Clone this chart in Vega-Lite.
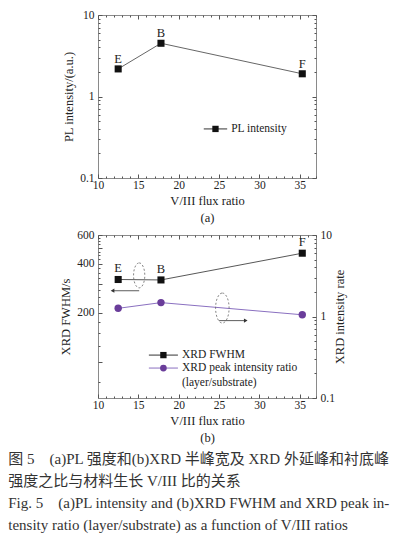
{
  "$schema": "https://vega.github.io/schema/vega-lite/v6.json",
  "background": "white",
  "padding": {"left": 8, "top": 8, "right": 4, "bottom": 4},
  "config": {
    "font": "Liberation Serif",
    "view": {"stroke": "#8a8a8a", "strokeWidth": 1},
    "axis": {
      "labelFont": "Liberation Serif", "labelFontSize": 11.5, "labelColor": "#222",
      "titleFont": "Liberation Serif", "titleFontSize": 12.5, "titleFontWeight": "normal", "titleColor": "#222",
      "titleLineHeight": 17, "domain": false, "offset": -4,
      "tickColor": "#555", "tickWidth": 1, "tickSize": 4, "tickDashOffset": 2, "grid": false,
      "labelOverlap": false, "labelFlush": false, "zindex": 1
    },
    "axisX": {"labelPadding": 1, "titlePadding": 4},
    "axisY": {"labelPadding": 4}
  },
  "title": {
    "text": [
      "图 5\u2003(a)PL 强度和(b)XRD 半峰宽及 XRD 外延峰和衬底峰",
      "强度之比与材料生长 V/III 比的关系",
      "Fig. 5\u2003(a)PL intensity and (b)XRD FWHM and XRD peak in-",
      "tensity ratio (layer/substrate) as a function of V/III ratios"
    ],
    "orient": "bottom", "anchor": "start", "dx": -51, "offset": 7,
    "font": "Liberation Serif, Noto Sans CJK SC", "fontSize": 15, "fontWeight": "normal",
    "lineHeight": 22.3, "color": "#333"
  },
  "spacing": 3,
  "vconcat": [
    {
      "width": 218, "height": 163,
      "data": {"values": [
        {"ratio": 12.5, "pl": 2.18, "label": "E"},
        {"ratio": 17.8, "pl": 4.5, "label": "B"},
        {"ratio": 35.3, "pl": 1.9, "label": "F"}
      ]},
      "encoding": {
        "x": {"field": "ratio", "type": "quantitative", "scale": {"domain": [10, 37], "nice": false},
              "axis": {"values": [10,11,12,13,14,15,16,17,18,19,20,21,22,23,24,25,26,27,28,29,30,31,32,33,34,35,36,37],
                       "labelExpr": "datum.value % 5 === 0 ? datum.label : ''",
                       "tickDash": {"condition": {"test": "datum.value % 5 === 0", "value": [10, 0]}, "value": [2, 2]},
                       "title": ["V/III flux ratio", "(a)"]}},
        "y": {"field": "pl", "type": "quantitative", "scale": {"type": "log", "domain": [0.1, 10], "nice": false},
              "axis": {"values": [0.1,0.2,0.3,0.4,0.5,0.6,0.7,0.8,0.9,1,2,3,4,5,6,7,8,9,10], "format": "~g",
                       "labelExpr": "(datum.value == 0.1 || datum.value == 1 || datum.value == 10) ? datum.label : ''",
                       "tickDash": {"condition": {"test": "datum.value == 0.1 || datum.value == 1 || datum.value == 10", "value": [10, 0]}, "value": [2, 2]},
                       "title": "PL intensity/(a.u.)"}}
      },
      "resolve": {"axis": {"x": "independent", "y": "independent"}},
      "layer": [
        {"mark": {"type": "line", "color": "#555", "strokeWidth": 0.9},
         "encoding": {
           "x": {"field": "ratio", "type": "quantitative",
                 "axis": {"orient": "top", "values": [10,11,12,13,14,15,16,17,18,19,20,21,22,23,24,25,26,27,28,29,30,31,32,33,34,35,36,37],
                          "labels": false, "title": null,
                          "tickDash": {"condition": {"test": "datum.value % 5 === 0", "value": [10, 0]}, "value": [2, 2]}}},
           "y": {"field": "pl", "type": "quantitative",
                 "axis": {"orient": "right", "values": [0.1,0.2,0.3,0.4,0.5,0.6,0.7,0.8,0.9,1,2,3,4,5,6,7,8,9,10],
                          "labels": false, "title": null,
                          "tickDash": {"condition": {"test": "datum.value == 0.1 || datum.value == 1 || datum.value == 10", "value": [10, 0]}, "value": [2, 2]}}}
         }},
        {"layer": [
          {"mark": {"type": "point", "shape": "square", "filled": true, "size": 50, "color": "#111", "opacity": 1}},
          {"mark": {"type": "text", "dy": -10, "fontSize": 12.5, "color": "#222", "font": "Liberation Serif"},
           "encoding": {"text": {"field": "label"}}},
          {"data": {"values": [{"ratio": 24.55, "x0": 23.1, "x1": 26.0, "tx": 26.5, "pl": 0.4, "text": "PL intensity"}]},
           "layer": [
             {"mark": {"type": "rule", "color": "#333", "strokeWidth": 1},
              "encoding": {"x": {"field": "x0", "type": "quantitative"}, "x2": {"field": "x1"}}},
             {"mark": {"type": "point", "shape": "square", "filled": true, "size": 40, "color": "#111", "opacity": 1}},
             {"mark": {"type": "text", "align": "left", "baseline": "middle", "fontSize": 11.5, "color": "#222", "font": "Liberation Serif"},
              "encoding": {"x": {"field": "tx", "type": "quantitative"}, "text": {"field": "text"}}}
           ]}
        ]}
      ]
    },
    {
      "width": 218, "height": 163,
      "data": {"values": [
        {"ratio": 12.5, "fwhm": 320, "ir": 1.26, "label": "E"},
        {"ratio": 17.8, "fwhm": 318, "ir": 1.48, "label": "B"},
        {"ratio": 35.3, "fwhm": 464, "ir": 1.05, "label": "F"}
      ]},
      "resolve": {"scale": {"y": "independent"}, "axis": {"x": "independent", "y": "independent"}},
      "layer": [
        {
          "encoding": {
            "x": {"field": "ratio", "type": "quantitative", "scale": {"domain": [10, 37], "nice": false},
                  "axis": {"values": [10,11,12,13,14,15,16,17,18,19,20,21,22,23,24,25,26,27,28,29,30,31,32,33,34,35,36,37],
                           "labelExpr": "datum.value % 5 === 0 ? datum.label : ''",
                           "tickDash": {"condition": {"test": "datum.value % 5 === 0", "value": [10, 0]}, "value": [2, 2]},
                           "title": ["V/III flux ratio", "(b)"]}},
            "y": {"field": "fwhm", "type": "quantitative", "scale": {"type": "log", "domain": [60, 600], "nice": false},
                  "axis": {"values": [75,100,125,150,175,200,225,250,275,300,325,350,375,400,425,450,475,500,525,550,575,600],
                           "format": "~g",
                           "labelExpr": "(datum.value == 200 || datum.value == 400 || datum.value == 600) ? datum.label : ''",
                           "tickDash": {"condition": {"test": "datum.value % 100 === 0", "value": [10, 0]}, "value": [2, 2]},
                           "title": "XRD FWHM/s"}}
          },
          "layer": [
            {"mark": {"type": "line", "color": "#444", "strokeWidth": 0.9}, "encoding": {}},
            {"mark": {"type": "point", "shape": "square", "filled": true, "size": 50, "color": "#111", "opacity": 1}},
            {"mark": {"type": "text", "dy": -11, "fontSize": 12.5, "color": "#222", "font": "Liberation Serif"},
             "encoding": {"text": {"field": "label"}}},
            {"data": {"values": [{"ratio": 15.1, "fwhm": 339}]},
             "mark": {"type": "point", "shape": "M0,-1A0.45,1 0 1,1 0,1A0.45,1 0 1,1 0,-1Z", "size": 625,
                      "filled": false, "stroke": "#666", "strokeWidth": 0.8, "strokeDash": [2, 2], "opacity": 1}},
            {"data": {"values": [{"ratio": 15.1, "ratio_end": 11.8, "fwhm": 273}]},
             "layer": [
               {"mark": {"type": "rule", "color": "#333", "strokeWidth": 0.8}, "encoding": {"x2": {"field": "ratio_end"}}},
               {"mark": {"type": "point", "shape": "triangle-left", "filled": true, "size": 18, "color": "#333", "opacity": 1},
                "encoding": {"x": {"field": "ratio_end", "type": "quantitative"}}}
             ]},
            {"data": {"values": [{"ratio": 18.1, "x0": 16.3, "x1": 19.9, "tx": 20.4, "fwhm": 110, "text": "XRD FWHM"}]},
             "layer": [
               {"mark": {"type": "rule", "color": "#333", "strokeWidth": 1},
                "encoding": {"x": {"field": "x0", "type": "quantitative"}, "x2": {"field": "x1"}}},
               {"mark": {"type": "point", "shape": "square", "filled": true, "size": 40, "color": "#111", "opacity": 1}},
               {"mark": {"type": "text", "align": "left", "baseline": "middle", "fontSize": 11.5, "color": "#222", "font": "Liberation Serif"},
                "encoding": {"x": {"field": "tx", "type": "quantitative"}, "text": {"field": "text"}}}
             ]}
          ]
        },
        {
          "encoding": {
            "x": {"field": "ratio", "type": "quantitative",
                  "axis": {"orient": "top", "values": [10,11,12,13,14,15,16,17,18,19,20,21,22,23,24,25,26,27,28,29,30,31,32,33,34,35,36,37],
                           "labels": false, "title": null,
                           "tickDash": {"condition": {"test": "datum.value % 5 === 0", "value": [10, 0]}, "value": [2, 2]}}},
            "y": {"field": "ir", "type": "quantitative", "scale": {"type": "log", "domain": [0.1, 10], "nice": false},
                  "axis": {"orient": "right", "values": [0.1,0.2,0.3,0.4,0.5,0.6,0.7,0.8,0.9,1,2,3,4,5,6,7,8,9,10], "format": "~g",
                           "labelExpr": "(datum.value == 0.1 || datum.value == 1 || datum.value == 10) ? datum.label : ''",
                           "tickDash": {"condition": {"test": "datum.value == 0.1 || datum.value == 1 || datum.value == 10", "value": [10, 0]}, "value": [2, 2]},
                           "title": "XRD intensity rate", "titleAngle": 270, "titlePadding": 12}}
          },
          "layer": [
            {"mark": {"type": "line", "color": "#8a70c0", "strokeWidth": 1}, "encoding": {}},
            {"mark": {"type": "point", "shape": "circle", "filled": true, "size": 55, "color": "#6a3d9a", "opacity": 1}},
            {"data": {"values": [{"ratio": 25.4, "ir": 1.27}]},
             "mark": {"type": "point", "shape": "M0,-1A0.45,1 0 1,1 0,1A0.45,1 0 1,1 0,-1Z", "size": 900,
                      "filled": false, "stroke": "#666", "strokeWidth": 0.8, "strokeDash": [2, 2], "opacity": 1}},
            {"data": {"values": [{"ratio": 25.0, "ratio_end": 28.3, "ir": 0.89}]},
             "layer": [
               {"mark": {"type": "rule", "color": "#333", "strokeWidth": 0.8}, "encoding": {"x2": {"field": "ratio_end"}}},
               {"mark": {"type": "point", "shape": "triangle-right", "filled": true, "size": 18, "color": "#333", "opacity": 1},
                "encoding": {"x": {"field": "ratio_end", "type": "quantitative"}}}
             ]},
            {"data": {"values": [{"ratio": 18.1, "x0": 16.3, "x1": 19.9, "ir": 0.233}]},
             "layer": [
               {"mark": {"type": "rule", "color": "#8a70c0", "strokeWidth": 1},
                "encoding": {"x": {"field": "x0", "type": "quantitative"}, "x2": {"field": "x1"}}},
               {"mark": {"type": "point", "shape": "circle", "filled": true, "size": 45, "color": "#6a3d9a", "opacity": 1}}
             ]},
            {"data": {"values": [
               {"tx": 20.4, "ir": 0.233, "text": "XRD peak intensity ratio"},
               {"tx": 20.4, "ir": 0.153, "text": "(layer/substrate)"}
             ]},
             "mark": {"type": "text", "align": "left", "baseline": "middle", "fontSize": 11.5, "color": "#222", "font": "Liberation Serif"},
             "encoding": {"x": {"field": "tx", "type": "quantitative"}, "text": {"field": "text"}}}
          ]
        }
      ]
    }
  ]
}
